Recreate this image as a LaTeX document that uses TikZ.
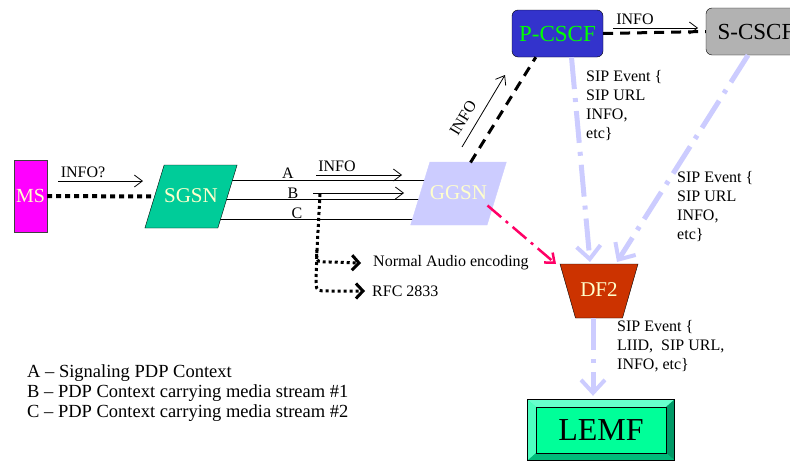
\documentclass[tikz,border=0pt]{standalone}
\usepackage{fontspec}
\setmainfont{Liberation Serif}
\usetikzlibrary{shapes.geometric,arrows.meta,calc,backgrounds}
\definecolor{paleyellow}{HTML}{FFFFCC}
\definecolor{msmagenta}{HTML}{FF00FF}
\definecolor{sgsngreen}{HTML}{00CC99}
\definecolor{lavender}{HTML}{CCCCFF}
\definecolor{pblue}{HTML}{3333CC}
\definecolor{pgreen}{HTML}{00FF00}
\definecolor{sgrey}{HTML}{B2B2B2}
\definecolor{dfred}{HTML}{CC3300}
\definecolor{lemfgreen}{HTML}{00FF99}
\definecolor{bevtop}{HTML}{66FFCC}
\definecolor{bevleft}{HTML}{4DFFC0}
\definecolor{bevright}{HTML}{009966}
\definecolor{bevbottom}{HTML}{00BB7A}
\definecolor{hotpink}{HTML}{FF0066}
\tikzset{
    elem/.style = {draw=black, inner sep=0pt, text=paleyellow, font=\fontsize{21}{24}\selectfont},
    ms_box/.style = {elem, rectangle, fill=msmagenta, draw=darkgray, minimum width=33pt, minimum height=72pt, font=\fontsize{20}{24}\selectfont},
    gsn_box/.style = {elem, trapezium, trapezium left angle=73, trapezium right angle=107, trapezium stretches body=true, text height=15pt, text depth=4pt, inner ysep=22pt, minimum width=85pt},
    cscf_box/.style = {elem, rectangle, rounded corners=6pt, minimum height=47pt, font=\fontsize{23}{26}\selectfont},
    df_box/.style = {elem, trapezium, shape border rotate=180, trapezium angle=74, trapezium stretches body=true, fill=dfred, text height=15pt, text depth=4pt, inner ysep=17.5pt, minimum width=78pt},
    lemf_box/.style = {rectangle, inner sep=0pt, fill=lemfgreen, minimum width=146pt, minimum height=60pt, font=\fontsize{32}{36}\selectfont},
    lbl/.style = {font=\fontsize{16}{19}\selectfont, inner sep=0pt, align=left},
    info_arrow/.style = {black, line width=0.8pt, -{Straight Barb[length=8pt,width=12pt]}},
    sig_dash/.style = {black, line width=3pt, dash pattern=on 10pt off 7pt},
    iri_arrow/.style = {lavender, line width=5pt, dash pattern=on 32pt off 9pt on 4pt off 9pt, -{Straight Barb[length=13pt,width=24pt,line width=4pt]}},
    red_arrow/.style = {hotpink, line width=2.5pt, dash pattern=on 18pt off 6pt on 3pt off 6pt, -{Straight Barb[length=8pt,width=13pt,line width=2.5pt]}},
    dot_arrow/.style = {black, line width=3pt, dash pattern=on 3pt off 3pt, -{Straight Barb[length=7pt,width=15pt,line width=3pt]}}
}
\begin{document}
\begin{tikzpicture}[x=1pt,y=-1pt]
\useasboundingbox (0,0) rectangle (790,463);

% network elements
\node[ms_box] (ms) at (30.5,196) {MS};
\node[gsn_box, fill=sgsngreen] (sgsn) at (191,196.5) {SGSN};
\node[gsn_box, fill=lavender, draw=lavender] (ggsn) at (458.5,193.5) {GGSN};
\node[cscf_box, fill=pblue, text=pgreen, minimum width=91pt] (pcscf) at (557.5,33.5) {P-CSCF};
\node[cscf_box, fill=sgrey, text=black, minimum width=100pt] (scscf) at (756,31.5) {S-CSCF};
\node[df_box] (df2) at (599,291) {DF2};
\node[lemf_box] (lemf) at (601,430) {LEMF};

% bevel of LEMF
\fill[bevtop] (lemf.north west) -- (lemf.north east) -- ($(lemf.north east)+(-8,7)$) -- ($(lemf.north west)+(8,7)$) -- cycle;
\fill[bevleft] (lemf.north west) -- ($(lemf.north west)+(8,7)$) -- ($(lemf.south west)+(8,-7)$) -- (lemf.south west) -- cycle;
\fill[bevright] (lemf.north east) -- ($(lemf.north east)+(-8,7)$) -- ($(lemf.south east)+(-8,-7)$) -- (lemf.south east) -- cycle;
\fill[bevbottom] (lemf.south west) -- ($(lemf.south west)+(8,-7)$) -- ($(lemf.south east)+(-8,-7)$) -- (lemf.south east) -- cycle;
\draw[black, line width=0.6pt] ($(lemf.north west)+(8,7)$) rectangle ($(lemf.south east)+(-8,-7)$);
\draw[black, line width=0.8pt] (lemf.north west) rectangle (lemf.south east);

% PDP contexts A, B, C
\begin{scope}[on background layer]
\draw[line width=0.8pt] (sgsn.center |- 0,180) -- (ggsn.center |- 0,180);
\draw[line width=0.8pt] (sgsn.center |- 0,199.5) -- (ggsn.center |- 0,199.5);
\draw[line width=0.8pt] (sgsn.center |- 0,219) -- (ggsn.center |- 0,219);
\end{scope}
\node[lbl] (ctxa) at (288,173) {A};
\node[lbl] (ctxb) at (293,193) {B};
\node[lbl] (ctxc) at (297,213) {C};

% signalling links
\draw[black, line width=4pt, dash pattern=on 5pt off 4pt] (ms.east) -- (sgsn.west);
\draw[sig_dash] ($(ggsn.center)+(12,-31)$) -- ($(pcscf.south west)+(24,0)$);
\draw[sig_dash] (pcscf.east) -- (scscf.west);

% INFO messages
\coordinate (ms_info_s) at (58,181);
\coordinate (ms_info_e) at (143,181);
\draw[info_arrow] (ms_info_s) -- (ms_info_e);
\node[lbl] (ms_info) at (83,172) {INFO?};
\coordinate (a_info_s) at (316,175);
\coordinate (a_info_e) at (402,175);
\draw[info_arrow] (a_info_s) -- (a_info_e);
\node[lbl] (a_info) at (337,166) {INFO};
\coordinate (b_info_s) at (313,193);
\coordinate (b_info_e) at (404,193);
\draw[info_arrow] (b_info_s) -- (b_info_e);
\coordinate (g_info_s) at (462,147);
\coordinate (g_info_e) at (505,75);
\draw[info_arrow] (g_info_s) -- (g_info_e);
\node[lbl, rotate=59] (g_info) at (463,118) {INFO};
\coordinate (p_info_s) at (613,28);
\coordinate (p_info_e) at (698,28);
\draw[info_arrow] (p_info_s) -- (p_info_e);
\node[lbl] (p_info) at (635,19) {INFO};

% media encodings on B
\node[lbl, anchor=west] (audio) at (373,263) {Normal Audio encoding};
\node[lbl, anchor=west] (rfc) at (372,291) {RFC 2833};
\coordinate (b_tap) at (320,194);
\coordinate (b_split) at (317,250);
\draw[dot_arrow] (b_tap) -- (b_split) .. controls (316,262) .. (330,262) -- ($(audio.west)+(-12,0)$);
\draw[dot_arrow] (b_split) -- (316,279) .. controls (316,291) .. (330,291) -- ($(rfc.west)+(-7,0)$);

% interception
\draw[red_arrow] ($(ggsn.center)+(29,12)$) -- ($(df2.center)+(-43,-27)$);
\draw[iri_arrow] ($(pcscf.south)+(14,0)$) -- ($(df2.center)+(-9,-29)$);
\draw[iri_arrow] ($(scscf.south)+(-8,0)$) -- ($(df2.center)+(18,-29)$);
\draw[iri_arrow] ($(df2.center)+(-6,27)$) -- ($(lemf.north)+(-8,-4)$);

% event contents
\node[lbl, anchor=north west] (p_event) at (586,70) {SIP Event \{\\SIP URL\\INFO,\\etc\}};
\node[lbl, anchor=north west] (s_event) at (677,171) {SIP Event \{\\SIP URL\\INFO,\\etc\}};
\node[lbl, anchor=north west] (df_event) at (617,320) {SIP Event \{\\LIID,\ \ SIP URL,\\INFO, etc\}};

% legend
\node[lbl, anchor=north west, font=\fontsize{18.5}{20}\selectfont] (legend) at (27,364) {A -- Signaling PDP Context\\B -- PDP Context carrying media stream \#1\\C -- PDP Context carrying media stream \#2};
\end{tikzpicture}
\end{document}
